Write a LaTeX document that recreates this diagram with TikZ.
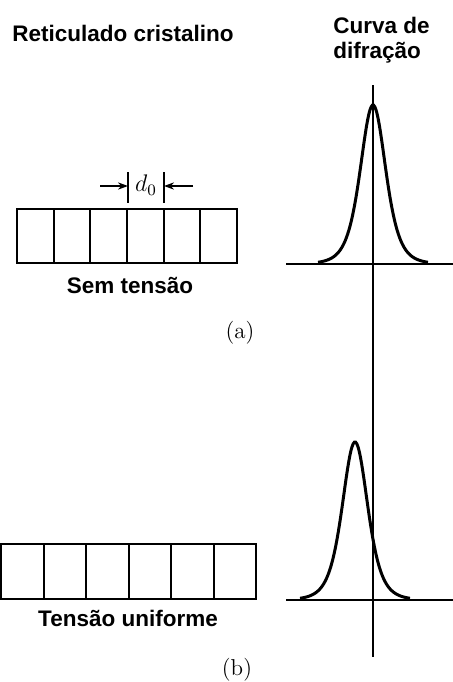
\documentclass[tikz,border=0pt]{standalone}
\usepackage{fontspec}
\setsansfont{Liberation Sans}
\usepackage{tikz}
\usetikzlibrary{arrows.meta,positioning}
\tikzset{
  ar/.style={-{Stealth[length=5pt,width=3.6pt]},line width=0.6pt},
  lat/.style={draw,line width=1pt},
  ax/.style={line width=0.7pt},
  pk/.style={line width=1.5pt,smooth},
  ttl/.style={font=\sffamily\bfseries\fontsize{11.25}{12.5}\selectfont,inner sep=0pt},
  tag/.style={font=\fontsize{11.5}{13}\selectfont,inner sep=0pt}
}
\begin{document}
\begin{tikzpicture}[x=0.5pt,y=-0.5pt]
\useasboundingbox (0,0) rectangle (453,682);
% headings
\node[ttl,anchor=base west] (ret) at (12,41) {Reticulado cristalino};
\node[ttl,anchor=north west,align=left] (dif) at (333,17) {Curva de\\difração};
% (a) no stress
\draw[lat] (17,209) rectangle (237,263);
\foreach \i in {1,...,5} \draw[lat] ({17+\i*36.67},209) -- ({17+\i*36.67},263);
\coordinate (ta) at (128,172); \coordinate (tb) at (128,203);
\coordinate (tc) at (164,172); \coordinate (td) at (164,203);
\draw[line width=0.6pt] (ta) -- (tb) (tc) -- (td);
\coordinate (lft) at (100,186); \coordinate (rgt) at (193,186);
\draw[ar] (lft) -- (lft -| ta);
\draw[ar] (rgt) -- (rgt -| tc);
\node[tag] (d0) at (146,185) {$d_0$};
\node[ttl,anchor=base] (sem) at (130,293) {Sem tensão};
\node[tag] (la) at (240,333) {(a)};
% diffraction axes
\coordinate (vt) at (373,85); \coordinate (vb) at (373,657);
\draw[ax] (vt) -- (vb);
\coordinate (b1l) at (286,264); \coordinate (b1r) at (453,264);
\draw[ax] (b1l) -- (b1r);
\draw[pk,domain=-55:55,samples=90] plot ({373+\x},{264-159/(1+0.001156*\x*\x)^3});
% (b) uniform stress
\draw[lat] (1,544) rectangle (256,599);
\foreach \i in {1,...,5} \draw[lat] ({1+\i*42.5},544) -- ({1+\i*42.5},599);
\node[ttl,anchor=base] (uni) at (128,626) {Tensão uniforme};
\node[tag] (lb) at (237,670) {(b)};
\coordinate (b2l) at (286,600); \coordinate (b2r) at (453,600);
\draw[ax] (b2l) -- (b2r);
\draw[pk,domain=-55:55,samples=90] plot ({355+\x},{600-158/(1+0.001156*\x*\x)^3});
\end{tikzpicture}
\end{document}
